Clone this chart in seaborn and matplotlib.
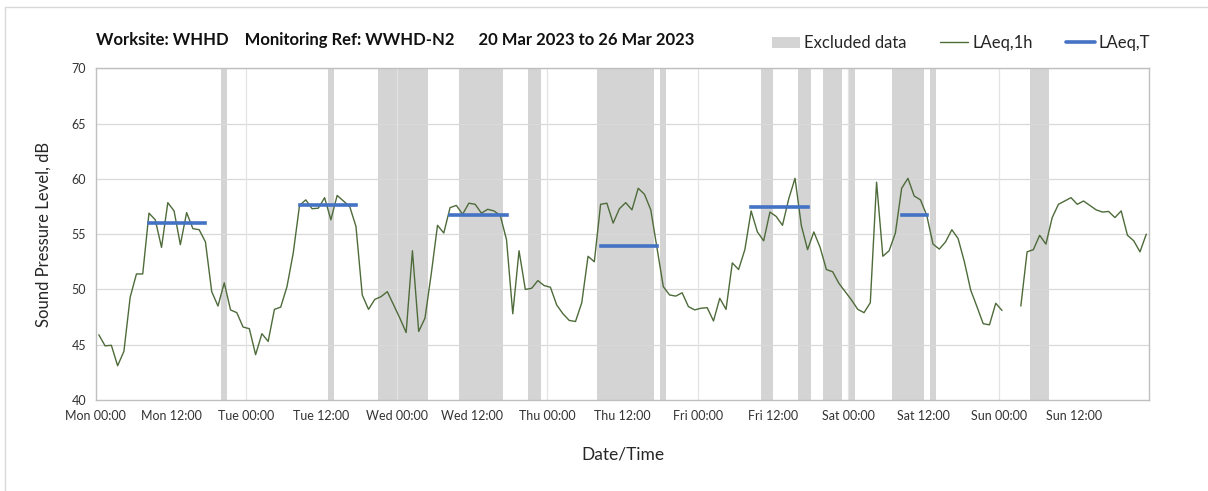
import numpy as np
import pandas as pd
import seaborn as sns
import matplotlib.pyplot as plt
from matplotlib.patches import Patch
from matplotlib.lines import Line2D

# hourly LAeq,1h values, Mon 00:00 onwards (None = no data)
laeq_1h = [
    45.9, 44.9, 44.95, 43.1, 44.4, 49.3, 51.4, 51.4, 56.9, 56.3,
    53.8, 57.85, 57.1, 54.05, 56.95, 55.5, 55.4, 54.3, 49.8, 48.5,
    50.6, 48.15, 47.9, 46.6, 46.45, 44.1, 46.0, 45.3, 48.2, 48.4,
    50.25, 53.3, 57.6, 58.1, 57.3, 57.35, 58.3, 56.3, 58.5, 58.0,
    57.5, 55.7, 49.5, 48.2, 49.1, 49.35, 49.8, 48.6, 47.4, 46.1,
    53.5, 46.2, 47.4, 51.4, 55.8, 55.1, 57.4, 57.6, 56.8, 57.8,
    57.7, 56.9, 57.25, 57.1, 56.7, 54.5, 47.8, 53.5, 50.0, 50.1,
    50.8, 50.35, 50.2, 48.6, 47.8, 47.2, 47.1, 48.8, 53.0, 52.5,
    57.7, 57.8, 56.0, 57.3, 57.85, 57.2, 59.15, 58.6, 57.2, 53.7,
    50.25, 49.5, 49.4, 49.7, 48.45, 48.15, 48.3, 48.35, 47.15, 49.2,
    48.2, 52.4, 51.8, 53.6, 57.1, 55.2, 54.4, 57.0, 56.6, 55.8,
    58.2, 60.05, 55.8, 53.6, 55.2, 53.8, 51.8, 51.6, 50.55, 49.8,
    49.05, 48.2, 47.9, 48.8, 59.7, 53.0, 53.5, 55.1, 59.15, 60.05,
    58.45, 58.1, 56.7, 54.1, 53.65, 54.3, 55.4, 54.6, 52.5, 49.95,
    48.45, 46.9, 46.8, 48.75, 48.1, None, None, 48.5, 53.4, 53.6,
    54.9, 54.1, 56.5, 57.7, 58.0, 58.3, 57.7, 58.0, 57.6, 57.2,
    57.0, 57.05, 56.5, 57.1, 54.9, 54.4, 53.4, 55.0,
]

# LAeq,T assessment periods (hours from Mon 00:00)
period_start = [8, 32, 56, 80, 104, 128]
period_end = [18, 42, 66, 90, 114, 133]
laeq_t = [56.0, 57.6, 56.7, 53.9, 57.45, 56.7]

# excluded data spans (hours from Mon 00:00)
excl_start = [20, 37, 45, 58, 69, 80, 90, 106, 112, 116, 120, 127, 133, 149]
excl_end = [21, 38, 53, 65, 71, 89, 91, 108, 114, 119, 121, 132, 134, 152]

tick_labels = ["Mon 00:00", "Mon 12:00", "Tue 00:00", "Tue 12:00", "Wed 00:00",
               "Wed 12:00", "Thu 00:00", "Thu 12:00", "Fri 00:00", "Fri 12:00",
               "Sat 00:00", "Sat 12:00", "Sun 00:00", "Sun 12:00"]

# build tables for seaborn
hours = np.arange(len(laeq_1h)) + 0.5
df = pd.DataFrame({"hour": hours, "level": [np.nan if v is None else v for v in laeq_1h]})
df["segment"] = df["level"].isna().cumsum()
df = df.dropna()

rows = []
for i, (s, e, v) in enumerate(zip(period_start, period_end, laeq_t)):
    rows.append({"hour": s + 0.5, "level": v, "period": i})
    rows.append({"hour": e - 0.5, "level": v, "period": i})
df_t = pd.DataFrame(rows)

sns.set_style("white")
plt.rcParams["font.family"] = ["Lato", "DejaVu Sans"]

fig = plt.figure(figsize=(12.08, 4.91), dpi=100)
ax = fig.add_axes([0.0792, 0.1853, 0.8723, 0.6756])

for s, e in zip(excl_start, excl_end):
    ax.axvspan(s, e, color="#d4d4d4", lw=0, zorder=1)

sns.lineplot(data=df, x="hour", y="level", units="segment", estimator=None,
             color="#4e6b3a", lw=1.0, ax=ax, zorder=3)
sns.lineplot(data=df_t, x="hour", y="level", units="period", estimator=None,
             color="#4472c4", lw=2.6, ax=ax, zorder=4, solid_capstyle="projecting")

ax.set_xlim(0, 168)
ax.set_ylim(40, 70)
ax.set_xticks(np.arange(0, 169, 12))
ax.set_xticklabels(tick_labels + [""], fontsize=9, color="#333333")
ax.set_yticks(np.arange(40, 71, 5))
ax.set_yticklabels([str(v) for v in range(40, 71, 5)], fontsize=9, color="#333333")
ax.tick_params(axis="both", direction="out", length=4, width=0.8, color="#a0a0a0", pad=3)

# grid: horizontal every 5 dB, vertical at midnight only
for y in range(45, 71, 5):
    ax.axhline(y, color="#d9d9d9", lw=0.9, zorder=2)
for x in range(24, 168, 24):
    ax.axvline(x, color="#e3e3e3", lw=0.9, zorder=2)

for sp in ax.spines.values():
    sp.set_color("#bfbfbf")
    sp.set_linewidth(1.0)

ax.set_xlabel("Date/Time", fontsize=12.5, color="#262626", labelpad=18)
ax.set_ylabel("Sound Pressure Level, dB", fontsize=12, color="#262626", labelpad=14)

fig.text(0.0795, 0.902, "Worksite: WHHD    Monitoring Ref: WWHD-N2      20 Mar 2023 to 26 Mar 2023",
         fontsize=12, fontweight="bold", color="#111111", va="bottom")

handles = [Patch(facecolor="#d4d4d4", edgecolor="none"),
           Line2D([], [], color="#4e6b3a", lw=1.0),
           Line2D([], [], color="#4472c4", lw=2.6)]
fig.legend(handles, ["Excluded data", "LAeq,1h", "LAeq,T"], loc="center right",
           bbox_to_anchor=(0.962, 0.912), ncol=3, frameon=False, fontsize=12,
           handlelength=1.7, handletextpad=0.25, columnspacing=2.0, labelcolor="#262626",
           borderpad=0.2)

# outer chart-area border (left and top edges visible)
fig.add_artist(Line2D([5 / 1208, 5 / 1208], [0, 1 - 7 / 491], color="#d9d9d9", lw=1.0))
fig.add_artist(Line2D([5 / 1208, 1], [1 - 7 / 491, 1 - 7 / 491], color="#d9d9d9", lw=1.0))

fig.savefig("out.png", dpi=100, facecolor="white")
